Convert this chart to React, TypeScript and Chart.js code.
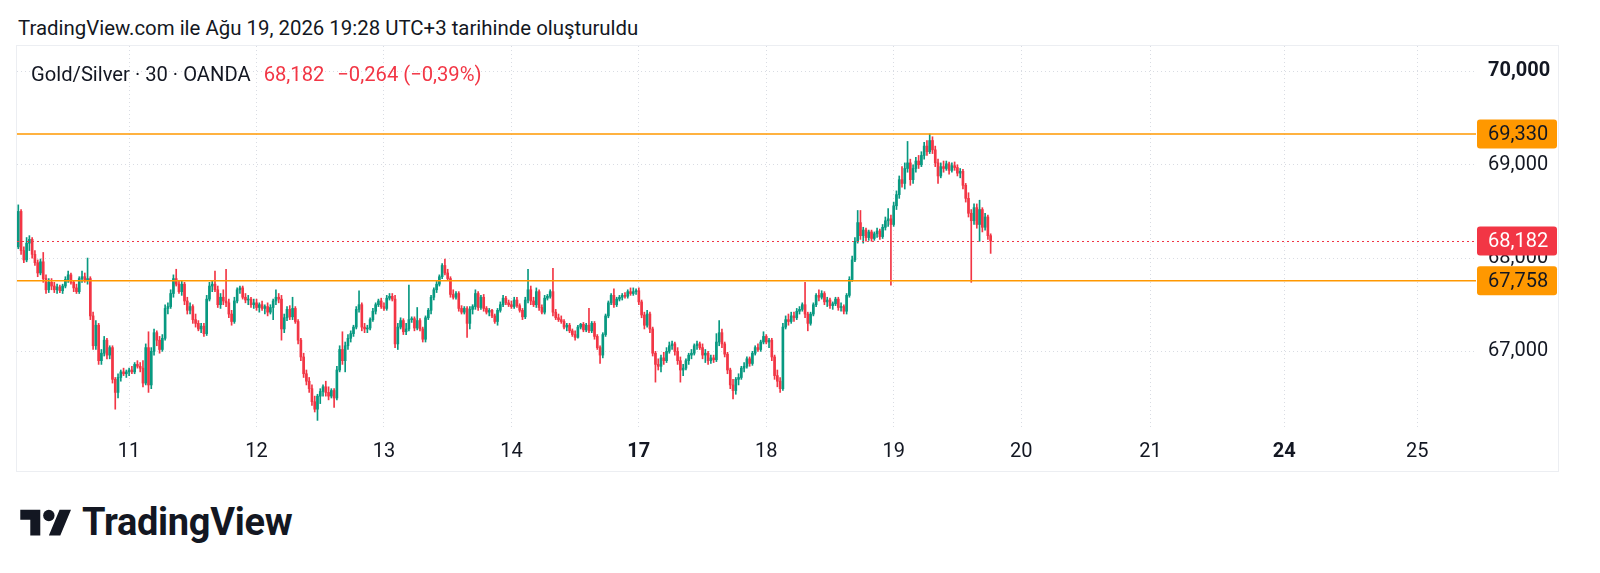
import React, { useEffect, useRef } from "react";
import { Chart, registerables } from "chart.js";

Chart.register(...registerables);

type Candle = [number, number, number, number]; // open, high, low, close

// 30-minute candles, Gold/Silver (OANDA), one array per trading day
const day10: Candle[] = [
  [68.12,68.57,68.10,68.50],[68.50,68.52,68.04,68.08],[68.08,68.12,67.95,67.98],[67.98,68.22,67.96,68.16],
  [68.16,68.24,68.08,68.20],[68.20,68.22,68.00,68.04],[68.04,68.08,67.92,67.95],[67.95,67.98,67.80,67.84],
  [67.84,67.99,67.82,67.96],[67.96,68.06,67.74,67.78],[67.78,67.82,67.62,67.66],[67.66,67.78,67.63,67.74],
  [67.74,67.78,67.66,67.70],[67.70,67.74,67.63,67.66],[67.66,67.72,67.62,67.69],[67.69,67.71,67.63,67.65],
  [67.65,67.72,67.62,67.70],[67.70,67.80,67.68,67.77],[67.77,67.86,67.74,67.82],[67.82,67.84,67.72,67.74],
  [67.74,67.76,67.64,67.68],[67.68,67.72,67.62,67.64],[67.64,67.80,67.62,67.78],[67.78,67.86,67.74,67.80],
  [67.80,67.84,67.74,67.76],[67.76,68.00,67.72,67.78],[67.78,67.80,67.34,67.38],[67.38,67.42,67.02,67.06],
  [67.06,67.33,67.02,67.28],[67.28,67.30,66.86,66.90],[66.90,67.02,66.86,66.98],[66.98,67.16,66.95,67.12],
  [67.12,67.14,66.92,66.96],[66.96,67.06,66.92,67.04],[67.04,67.06,66.66,66.70],[66.70,66.72,66.38,66.56],
  [66.56,66.76,66.50,66.72],[66.72,66.80,66.68,66.78],[66.78,66.82,66.74,66.76],[66.76,66.80,66.72,66.78],
];
const day11: Candle[] = [
  [66.78,66.82,66.74,66.80],[66.80,66.84,66.76,66.78],[66.78,66.88,66.76,66.86],[66.86,66.90,66.82,66.84],
  [66.84,66.88,66.78,66.82],[66.82,66.90,66.62,66.66],[66.66,67.08,66.64,67.04],[67.04,67.21,66.56,66.64],
  [66.64,67.04,66.60,67.00],[67.00,67.24,66.96,67.20],[67.20,67.22,67.06,67.12],[67.12,67.16,66.98,67.02],
  [67.02,67.18,67.00,67.14],[67.14,67.50,67.12,67.46],[67.46,67.52,67.40,67.48],[67.48,67.66,67.46,67.62],
  [67.62,67.82,67.58,67.78],[67.78,67.88,67.70,67.72],[67.72,67.76,67.62,67.64],[67.64,67.76,67.60,67.72],
  [67.72,67.74,67.50,67.54],[67.54,67.58,67.40,67.44],[67.44,67.52,67.40,67.48],[67.48,67.50,67.30,67.34],
  [67.34,67.40,67.26,67.30],[67.30,67.33,67.22,67.24],[67.24,67.30,67.20,67.27],[67.27,67.30,67.16,67.19],
  [67.19,67.60,67.17,67.56],[67.56,67.74,67.54,67.70],[67.70,67.76,67.64,67.72],[67.72,67.86,67.64,67.66],
  [67.66,67.70,67.47,67.50],[67.50,67.62,67.46,67.58],[67.58,67.66,67.50,67.54],[67.54,67.88,67.48,67.52],
  [67.52,67.56,67.36,67.40],[67.40,67.44,67.28,67.32],[67.32,67.58,67.30,67.54],[67.54,67.68,67.52,67.66],
  [67.66,67.70,67.62,67.68],[67.68,67.70,67.56,67.58],[67.58,67.62,67.52,67.55],[67.55,67.60,67.50,67.56],
  [67.56,67.58,67.47,67.50],[67.50,67.56,67.46,67.52],
];
const day12: Candle[] = [
  [67.52,67.56,67.44,67.47],[67.47,67.52,67.42,67.50],[67.50,67.54,67.44,67.46],[67.46,67.50,67.40,67.48],
  [67.48,67.52,67.38,67.42],[67.42,67.50,67.40,67.47],[67.47,67.56,67.34,67.54],[67.54,67.66,67.50,67.58],
  [67.58,67.62,67.52,67.56],[67.56,67.60,67.12,67.24],[67.24,67.40,67.20,67.36],[67.36,67.48,67.33,67.45],
  [67.45,67.49,67.34,67.37],[67.37,67.58,67.34,67.46],[67.46,67.48,67.30,67.32],[67.32,67.34,67.08,67.12],
  [67.12,67.14,66.90,66.94],[66.94,66.98,66.72,66.76],[66.76,66.80,66.64,66.68],[66.68,66.72,66.56,66.60],
  [66.60,66.64,66.42,66.46],[66.46,66.52,66.35,66.38],[66.38,66.54,66.26,66.52],[66.52,66.60,66.44,66.57],
  [66.57,66.64,66.52,66.62],[66.62,66.68,66.52,66.56],[66.56,66.62,66.48,66.52],[66.52,66.60,66.50,66.58],
  [66.58,66.60,66.40,66.50],[66.50,66.84,66.48,66.80],[66.80,67.06,66.78,67.02],[67.02,67.21,66.86,66.90],
  [66.90,67.10,66.78,67.06],[67.06,67.18,67.02,67.14],[67.14,67.22,67.10,67.19],[67.19,67.28,67.16,67.26],
  [67.26,67.48,67.24,67.45],[67.45,67.65,67.42,67.50],[67.50,67.52,67.22,67.26],[67.26,67.30,67.20,67.24],
  [67.24,67.28,67.20,67.25],[67.25,67.36,67.23,67.34],[67.34,67.46,67.32,67.43],[67.43,67.52,67.40,67.50],
  [67.50,67.56,67.48,67.54],[67.54,67.57,67.46,67.48],
];
const day13: Candle[] = [
  [67.48,67.52,67.44,67.46],[67.46,67.60,67.44,67.57],[67.57,67.62,67.55,67.59],[67.59,67.62,67.54,67.56],
  [67.56,67.60,67.04,67.08],[67.08,67.30,67.02,67.26],[67.26,67.36,67.24,67.33],[67.33,67.35,67.18,67.21],
  [67.21,67.30,67.18,67.24],[67.24,67.71,67.22,67.34],[67.34,67.37,67.31,67.35],[67.35,67.37,67.22,67.25],
  [67.25,67.47,67.23,67.33],[67.33,67.35,67.22,67.24],[67.24,67.26,67.10,67.13],[67.13,67.38,67.10,67.36],
  [67.36,67.46,67.34,67.44],[67.44,67.60,67.40,67.58],[67.58,67.68,67.55,67.66],[67.66,67.75,67.63,67.72],
  [67.72,67.82,67.70,67.80],[67.80,67.94,67.78,67.92],[67.92,67.99,67.82,67.84],[67.84,67.88,67.76,67.78],
  [67.78,67.80,67.58,67.61],[67.61,67.66,67.56,67.58],[67.58,67.64,67.56,67.62],[67.62,67.64,67.43,67.46],
  [67.46,67.49,67.40,67.42],[67.42,67.48,67.40,67.46],[67.46,67.48,67.15,67.30],[67.30,67.48,67.24,67.45],
  [67.45,67.50,67.40,67.48],[67.48,67.66,67.45,67.62],[67.62,67.64,67.44,67.47],[67.47,67.60,67.45,67.58],
  [67.58,67.61,67.43,67.46],[67.46,67.48,67.40,67.42],[67.42,67.46,67.38,67.44],[67.44,67.45,67.36,67.38],
  [67.38,67.40,67.30,67.32],[67.32,67.46,67.28,67.44],[67.44,67.53,67.42,67.50],[67.50,67.60,67.48,67.57],
  [67.57,67.59,67.50,67.52],[67.52,67.55,67.48,67.50],
];
const day14: Candle[] = [
  [67.50,67.54,67.46,67.48],[67.48,67.58,67.46,67.55],[67.55,67.58,67.47,67.49],[67.49,67.51,67.42,67.44],
  [67.44,67.46,67.34,67.37],[67.37,67.58,67.35,67.55],[67.55,67.88,67.52,67.66],[67.66,67.70,67.50,67.54],
  [67.54,67.58,67.48,67.50],[67.50,67.68,67.47,67.64],[67.64,67.66,67.44,67.47],[67.47,67.50,67.40,67.42],
  [67.42,67.60,67.40,67.57],[67.57,67.61,67.55,67.59],[67.59,67.66,67.57,67.64],[67.64,67.89,67.38,67.42],
  [67.42,67.45,67.34,67.36],[67.36,67.40,67.32,67.34],[67.34,67.38,67.30,67.32],[67.32,67.34,67.24,67.26],
  [67.26,67.30,67.22,67.28],[67.28,67.30,67.20,67.22],[67.22,67.24,67.16,67.18],[67.18,67.22,67.12,67.15],
  [67.15,67.28,67.14,67.26],[67.26,67.30,67.24,67.29],[67.29,67.31,67.21,67.23],[67.23,67.30,67.21,67.28],
  [67.28,67.46,67.20,67.22],[67.22,67.32,67.20,67.30],[67.30,67.32,67.13,67.16],[67.16,67.18,67.02,67.04],
  [67.04,67.06,66.87,66.96],[66.96,67.20,66.93,67.18],[67.18,67.40,67.16,67.38],[67.38,67.54,67.36,67.52],
  [67.52,67.62,67.50,67.60],[67.60,67.67,67.47,67.50],[67.50,67.58,67.48,67.56],[67.56,67.60,67.54,67.58],
  [67.58,67.62,67.55,67.60],[67.60,67.63,67.57,67.59],[67.59,67.66,67.57,67.64],[67.64,67.68,67.60,67.62],
  [67.62,67.68,67.60,67.64],[67.64,67.67,67.61,67.65],
];
const day17: Candle[] = [
  [67.65,67.68,67.50,67.53],[67.53,67.55,67.36,67.39],[67.39,67.42,67.24,67.28],[67.28,67.44,67.26,67.40],
  [67.40,67.42,67.20,67.24],[67.24,67.26,66.95,66.98],[66.98,67.00,66.67,66.86],[66.86,66.92,66.80,66.84],
  [66.84,66.96,66.78,66.93],[66.93,66.99,66.86,66.90],[66.90,67.04,66.88,67.00],[67.00,67.10,66.98,67.06],
  [67.06,67.11,67.02,67.08],[67.08,67.10,66.96,67.00],[67.00,67.04,66.86,66.90],[66.90,66.94,66.67,66.80],
  [66.80,66.86,66.74,66.82],[66.82,66.92,66.80,66.90],[66.90,66.98,66.86,66.96],[66.96,67.02,66.92,66.98],
  [66.98,67.08,66.96,67.06],[67.06,67.11,67.02,67.08],[67.08,67.10,67.02,67.04],[67.04,67.08,66.92,66.96],
  [66.96,67.02,66.88,66.98],[66.98,67.00,66.86,66.90],[66.90,66.96,66.87,66.93],[66.93,66.96,66.88,66.91],
  [66.91,67.19,66.89,67.10],[67.10,67.33,67.06,67.20],[67.20,67.24,67.04,67.08],[67.08,67.10,66.94,66.97],
  [66.97,66.99,66.76,66.80],[66.80,66.82,66.60,66.64],[66.64,66.70,66.49,66.58],[66.58,66.72,66.54,66.70],
  [66.70,66.76,66.64,66.72],[66.72,66.84,66.70,66.82],[66.82,66.88,66.78,66.84],[66.84,66.94,66.82,66.92],
  [66.92,66.94,66.84,66.87],[66.87,67.00,66.85,66.98],[66.98,67.06,66.96,67.04],[67.04,67.08,67.00,67.02],
  [67.02,67.12,67.00,67.10],[67.10,67.21,67.08,67.16],
];
const day18: Candle[] = [
  [67.16,67.18,67.08,67.10],[67.10,67.14,67.04,67.12],[67.12,67.14,66.90,66.94],[66.94,66.96,66.70,66.74],
  [66.74,66.80,66.62,66.68],[66.68,66.72,66.56,66.60],[66.60,67.30,66.58,67.26],[67.26,67.38,67.24,67.34],
  [67.34,67.40,67.28,67.32],[67.32,67.42,67.30,67.38],[67.38,67.42,67.32,67.36],[67.36,67.46,67.34,67.43],
  [67.43,67.48,67.40,67.45],[67.45,67.52,67.43,67.50],[67.50,67.74,67.36,67.40],[67.40,67.42,67.22,67.30],
  [67.30,67.42,67.28,67.40],[67.40,67.52,67.38,67.50],[67.50,67.62,67.48,67.60],[67.60,67.66,67.54,67.58],
  [67.58,67.65,67.56,67.62],[67.62,67.64,67.50,67.53],[67.53,67.58,67.48,67.55],[67.55,67.57,67.46,67.49],
  [67.49,67.53,67.45,67.51],[67.51,67.58,67.49,67.56],[67.56,67.58,67.44,67.47],[67.47,67.52,67.43,67.48],
  [67.48,67.50,67.40,67.43],[67.43,67.62,67.40,67.60],[67.60,67.80,67.58,67.77],[67.77,68.02,67.75,67.98],
  [67.98,68.22,67.96,68.18],[68.18,68.51,68.16,68.38],[68.38,68.51,68.20,68.24],[68.24,68.33,68.16,68.30],
  [68.30,68.32,68.18,68.22],[68.22,68.30,68.19,68.28],[68.28,68.30,68.18,68.21],[68.21,68.28,68.19,68.26],
  [68.26,68.32,68.22,68.29],[68.29,68.31,68.20,68.23],[68.23,68.36,68.21,68.33],[68.33,68.44,68.30,68.40],
  [68.40,68.53,68.34,68.42],[68.42,68.46,67.71,68.36],
];
const day19: Candle[] = [
  [68.36,68.60,68.34,68.56],[68.56,68.72,68.52,68.68],[68.68,68.88,68.64,68.84],[68.84,68.98,68.76,68.80],
  [68.80,69.02,68.74,68.96],[68.96,69.25,68.92,69.02],[69.02,69.06,68.78,68.84],[68.84,69.00,68.80,68.96],
  [68.96,69.08,68.92,69.04],[69.04,69.10,68.96,69.00],[69.00,69.14,68.98,69.10],[69.10,69.24,69.06,69.20],
  [69.20,69.26,69.10,69.14],[69.14,69.33,69.12,69.26],[69.26,69.30,69.12,69.16],[69.16,69.20,68.98,69.02],
  [69.02,69.06,68.80,68.88],[68.88,69.02,68.86,68.98],[68.98,69.04,68.92,68.96],[68.96,69.04,68.94,69.01],
  [69.01,69.03,68.90,68.94],[68.94,69.02,68.92,68.99],[68.99,69.03,68.94,68.97],[68.97,69.00,68.88,68.91],
  [68.91,68.96,68.86,68.93],[68.93,68.95,68.74,68.78],[68.78,68.80,68.60,68.64],[68.64,68.70,68.44,68.48],
  [68.48,68.52,67.74,68.40],[68.40,68.58,68.36,68.54],[68.54,68.58,68.32,68.36],[68.36,68.62,68.18,68.52],
  [68.52,68.54,68.28,68.33],[68.33,68.48,68.30,68.44],[68.44,68.46,68.20,68.24],[68.24,68.26,68.05,68.182],
];

const candles: Candle[] = [...day10, ...day11, ...day12, ...day13, ...day14, ...day17, ...day18, ...day19];

// x-axis: day labels and the bar index at which each day starts (future days projected)
const dayTickLabels = ["11", "12", "13", "14", "17", "18", "19", "20", "21", "24", "25"];
const dayTickBars = [40, 86, 132, 178, 224, 270, 316, 362, 408.7, 457, 505];
const boldDayLabels = ["17", "24"];

// y-axis
const priceTicks = [67, 68, 69, 70];
const boldPriceTicks = [70];
const levelLines = [69.33, 67.758];
const lastPrice = 68.182;
const priceChange = -0.264;
const pctChange = -0.39;

const UP = "#089981";
const DOWN = "#F23645";
const ORANGE = "#FF9800";
const TEXT = "#131722";
const GRID = "#d9dce3";
const FONT = "Roboto";

const fmt = (v: number, d = 3) => v.toFixed(d).replace(".", ",");
const signed = (v: number, d = 3) => (v < 0 ? "\u2212" : "+") + fmt(Math.abs(v), d);

const overlayPlugin = {
  id: "tvOverlay",
  afterDatasetsDraw(chart: any) {
    const { ctx, chartArea, scales } = chart;
    const y = scales.y;
    ctx.save();
    const py = Math.round(y.getPixelForValue(lastPrice)) + 0.5;
    ctx.strokeStyle = DOWN;
    ctx.lineWidth = 1;
    ctx.setLineDash([2, 3]);
    ctx.beginPath();
    ctx.moveTo(chartArea.left, py);
    ctx.lineTo(chartArea.right, py);
    ctx.stroke();
    ctx.setLineDash([]);
    ctx.strokeStyle = ORANGE;
    ctx.lineWidth = 1.5;
    levelLines.forEach((v) => {
      const p = y.getPixelForValue(v);
      ctx.beginPath();
      ctx.moveTo(chartArea.left, p);
      ctx.lineTo(chartArea.right, p);
      ctx.stroke();
    });
    ctx.restore();
  },
  afterDraw(chart: any) {
    const { ctx, chartArea, scales, width } = chart;
    const y = scales.y;
    const items = [
      ...levelLines.map((v) => ({ v, bg: ORANGE, fg: TEXT })),
      { v: lastPrice, bg: DOWN, fg: "#ffffff" },
    ];
    ctx.save();
    ctx.font = `20px ${FONT}`;
    ctx.textBaseline = "middle";
    ctx.textAlign = "left";
    items.forEach(({ v, bg, fg }) => {
      const p = y.getPixelForValue(v);
      const x0 = chartArea.right + 1;
      const w = width - x0 - 1;
      ctx.fillStyle = bg;
      ctx.beginPath();
      if (ctx.roundRect) ctx.roundRect(x0, p - 14.5, w, 29, 3);
      else ctx.rect(x0, p - 14.5, w, 29);
      ctx.fill();
      ctx.fillStyle = fg;
      ctx.fillText(fmt(v), chartArea.right + 12, p + 1);
    });
    ctx.restore();
  },
};

function CandleChart() {
  const ref = useRef<HTMLCanvasElement | null>(null);
  useEffect(() => {
    if (!ref.current) return;
    Chart.defaults.font.family = FONT;
    const colorOf = (ctx: any) => {
      const c = candles[ctx.dataIndex];
      return c && c[3] >= c[0] ? UP : DOWN;
    };
    const chart = new Chart(ref.current, {
      type: "bar",
      data: {
        datasets: [
          {
            label: "body",
            data: candles.map((c, i) => ({ x: i, y: [c[0], c[3]] })) as any,
            backgroundColor: colorOf,
            borderWidth: 0,
            barThickness: 2,
            minBarLength: 1,
            grouped: false,
            order: 0,
          } as any,
          {
            label: "wick",
            data: candles.map((c, i) => ({ x: i, y: [c[2], c[1]] })) as any,
            backgroundColor: colorOf,
            borderWidth: 0,
            barThickness: 1,
            minBarLength: 1,
            grouped: false,
            order: 1,
          } as any,
        ],
      },
      options: {
        animation: false,
        responsive: false,
        events: [],
        layout: { padding: 0 },
        plugins: { legend: { display: false }, tooltip: { enabled: false } },
        scales: {
          x: {
            type: "linear",
            min: -0.47,
            max: 526.2,
            offset: false,
            afterBuildTicks: (scale: any) => {
              scale.ticks = dayTickBars.map((v) => ({ value: v }));
            },
            afterFit: (scale: any) => {
              scale.height = 41;
              scale.paddingLeft = 0;
              scale.paddingRight = 0;
            },
            grid: { color: GRID, offset: false, drawTicks: false, lineWidth: 1 },
            border: { display: false, dash: [1, 3] },
            ticks: {
              autoSkip: false,
              maxRotation: 0,
              padding: 10,
              color: TEXT,
              callback: (_v: any, i: number) => dayTickLabels[i],
              font: (ctx: any) => ({
                family: FONT,
                size: 20,
                weight: boldDayLabels.includes(dayTickLabels[ctx.index]) ? "bold" : "normal",
              }),
            },
          },
          y: {
            type: "linear",
            position: "right",
            min: 66.157,
            max: 70.273,
            afterBuildTicks: (scale: any) => {
              scale.ticks = priceTicks.map((v) => ({ value: v }));
            },
            afterFit: (scale: any) => {
              scale.width = 82;
              scale.paddingTop = 0;
              scale.paddingBottom = 0;
            },
            grid: { color: GRID, drawTicks: false, lineWidth: 1 },
            border: { display: false, dash: [1, 3] },
            ticks: {
              padding: 12,
              color: TEXT,
              callback: (v: any) => fmt(Number(v)),
              font: (ctx: any) => ({
                family: FONT,
                size: 20,
                weight: ctx.tick && boldPriceTicks.includes(ctx.tick.value) ? "bold" : "normal",
              }),
            },
          },
        },
      } as any,
      plugins: [overlayPlugin],
    });
    if ((document as any).fonts?.ready) {
      (document as any).fonts.ready.then(() => {
        if ((chart as any).ctx) chart.update();
      });
    }
    return () => chart.destroy();
  }, []);
  return (
    <canvas
      ref={ref}
      width={1541}
      height={425}
      style={{ position: "absolute", left: 17, top: 46, width: 1541, height: 425 }}
    />
  );
}

function Logo() {
  return (
    <svg
      width={52}
      height={40}
      viewBox="0 0 36 28"
      style={{ position: "absolute", left: 20, top: 504 }}
    >
      <path d="M14 22H7V11H0V4h14v18zM28 22h-8l7.5-18h8L28 22z" fill={TEXT} />
      <circle cx="20" cy="8" r="4" fill={TEXT} />
    </svg>
  );
}

export default function App() {
  return (
    <div
      style={{
        position: "absolute",
        left: 0,
        top: 0,
        width: 1600,
        height: 573,
        background: "#ffffff",
        fontFamily: FONT,
        color: TEXT,
        overflow: "hidden",
      }}
    >
      <div style={{ position: "absolute", left: 18, top: 16, fontSize: 20.4, lineHeight: "24px", whiteSpace: "nowrap" }}>
        TradingView.com ile Ağu 19, 2026 19:28 UTC+3 tarihinde oluşturuldu
      </div>
      <div
        style={{
          position: "absolute",
          left: 16,
          top: 45,
          width: 1543,
          height: 427,
          boxSizing: "border-box",
          border: "1px solid #eceef2",
        }}
      />
      <CandleChart />
      <div style={{ position: "absolute", left: 31, top: 62, fontSize: 20.2, lineHeight: "24px", whiteSpace: "pre" }}>
        Gold/Silver · 30 · OANDA
        <span style={{ color: DOWN, marginLeft: 13 }}>{fmt(lastPrice)}</span>
        <span style={{ color: DOWN, marginLeft: 13 }}>
          {signed(priceChange)} ({signed(pctChange, 2)}%)
        </span>
      </div>
      <Logo />
      <div
        style={{
          position: "absolute",
          left: 82,
          top: 503,
          fontSize: 38,
          lineHeight: "38px",
          fontWeight: 700,
          letterSpacing: "-0.3px",
          whiteSpace: "nowrap",
        }}
      >
        TradingView
      </div>
    </div>
  );
}
